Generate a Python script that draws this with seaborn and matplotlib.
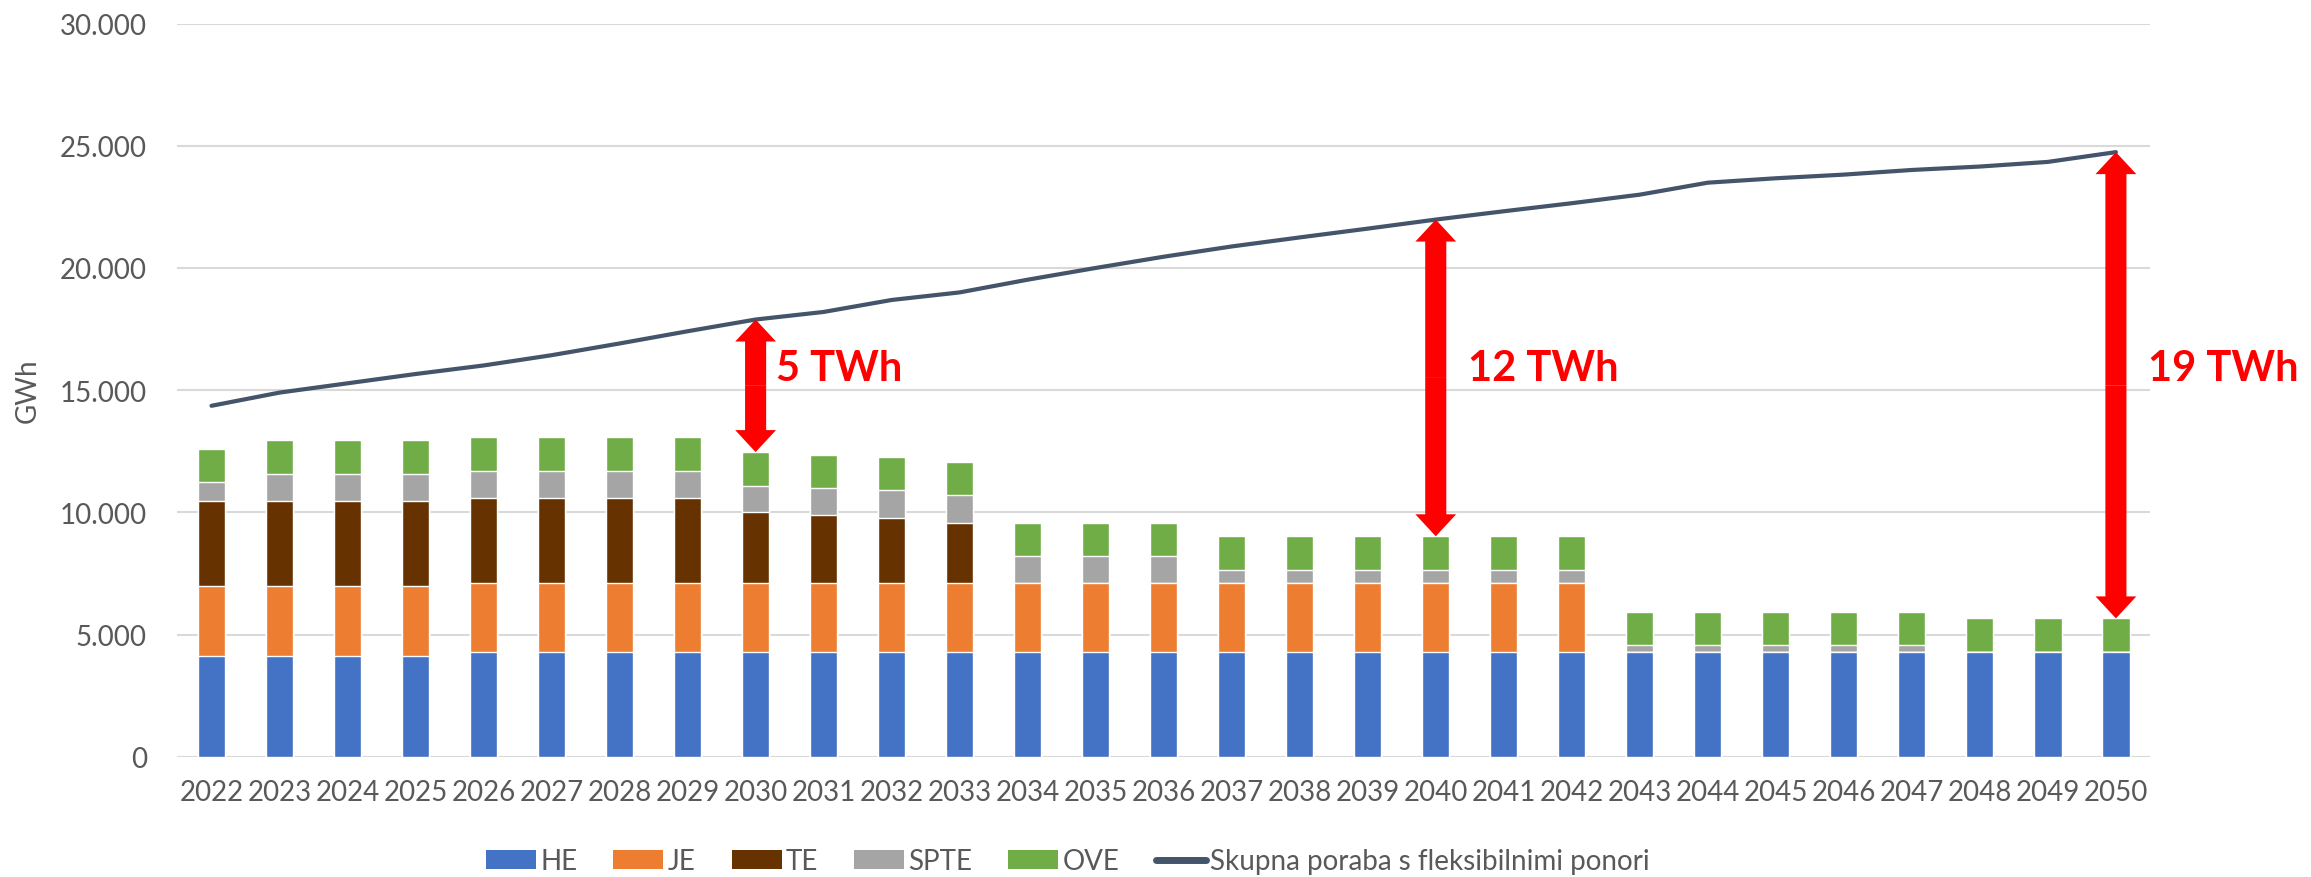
import numpy as np
import pandas as pd
import matplotlib
matplotlib.use("Agg")
import matplotlib.pyplot as plt
import seaborn as sns
from matplotlib.patches import Patch
from matplotlib.lines import Line2D
from matplotlib.ticker import FuncFormatter

# ---------------- data ----------------
years = ["2022", "2023", "2024", "2025", "2026", "2027", "2028", "2029", "2030",
         "2031", "2032", "2033", "2034", "2035", "2036", "2037", "2038", "2039",
         "2040", "2041", "2042", "2043", "2044", "2045", "2046", "2047", "2048",
         "2049", "2050"]
HE = [4130, 4130, 4130, 4130, 4280, 4280, 4280, 4280, 4280, 4280, 4280, 4280,
      4280, 4280, 4280, 4280, 4280, 4280, 4280, 4280, 4280, 4280, 4280, 4280,
      4280, 4280, 4280, 4280, 4280]
JE = [2840, 2840, 2840, 2840, 2820, 2820, 2820, 2820, 2820, 2820, 2820, 2820,
      2820, 2820, 2820, 2820, 2820, 2820, 2820, 2820, 2820, 0, 0, 0, 0, 0, 0, 0, 0]
TE = [3490, 3490, 3490, 3490, 3490, 3490, 3490, 3490, 2900, 2800, 2670, 2480,
      0, 0, 0, 0, 0, 0, 0, 0, 0, 0, 0, 0, 0, 0, 0, 0, 0]
SPTE = [770, 1100, 1100, 1100, 1100, 1100, 1100, 1100, 1085, 1105, 1150, 1130,
        1107, 1107, 1107, 560, 560, 560, 560, 560, 560, 290, 290, 290, 290, 290,
        0, 0, 0]
OVE = [1380, 1380, 1380, 1380, 1400, 1400, 1400, 1400, 1380, 1360, 1340, 1360,
       1360, 1360, 1360, 1360, 1360, 1360, 1360, 1360, 1360, 1360, 1360, 1360,
       1360, 1360, 1380, 1380, 1380]
poraba = [14360, 14900, 15280, 15660, 16010, 16430, 16910, 17410, 17890, 18200,
          18690, 19000, 19520, 20000, 20460, 20880, 21250, 21610, 21980, 22320,
          22650, 23000, 23490, 23670, 23820, 24010, 24150, 24340, 24740]
series_names = ["HE", "JE", "TE", "SPTE", "OVE"]
line_name = "Skupna poraba s fleksibilnimi ponori"
gap_years = ["2030", "2040", "2050"]
gap_labels = ["5 TWh", "12 TWh", "19 TWh"]
yticks = [0, 5000, 10000, 15000, 20000, 25000, 30000]

# ---------------- style ----------------
colors = {"HE": "#4472C4", "JE": "#ED7D31", "TE": "#663300",
          "SPTE": "#A5A5A5", "OVE": "#70AD47"}
line_color = "#44546A"
text_color = "#595959"
grid_color = "#D9D9D9"

sns.set_theme(style="white")
plt.rcParams["font.family"] = ["Lato", "DejaVu Sans"]

df = pd.DataFrame({"year": years, "HE": HE, "JE": JE, "TE": TE,
                   "SPTE": SPTE, "OVE": OVE, "poraba": poraba})
cum = df[series_names].cumsum(axis=1)

fig = plt.figure(figsize=(23.11, 8.78), dpi=100)
ax = fig.add_axes([0.0768, 0.137, 0.8535, 0.835])

# stacked bars: draw cumulative totals from top layer down
for name in reversed(series_names):
    sns.barplot(x=df["year"], y=cum[name], color=colors[name], saturation=1,
                width=0.4, ax=ax, order=years, errorbar=None, zorder=2)

xpos = np.arange(len(years))
sns.lineplot(x=xpos, y=df["poraba"], color=line_color, linewidth=3.0, ax=ax,
             zorder=3, solid_capstyle="round")

# axes styling
ax.set_xlim(-0.5, len(years) - 0.5)
ax.set_ylim(0, 30000)
ax.set_yticks(yticks)
ax.yaxis.set_major_formatter(FuncFormatter(lambda v, p: f"{int(v):,}".replace(",", ".")))
ax.grid(axis="y", color=grid_color, linewidth=1.5, zorder=0)
ax.set_axisbelow(True)
for s in ax.spines.values():
    s.set_visible(False)
ax.tick_params(axis="both", length=0, labelsize=20, labelcolor=text_color)
ax.tick_params(axis="y", pad=22)
ax.tick_params(axis="x", pad=16)
ax.set_xlabel("")
ax.set_ylabel("GWh", fontsize=20, color=text_color, labelpad=14)

# gap arrows and labels
total = cum["OVE"].values
offsets = [0.3, 0.47, 0.47]
for yr, lab, off in zip(gap_years, gap_labels, offsets):
    i = years.index(yr)
    top = poraba[i]
    bot = total[i]
    mid = (top + bot) / 2
    for end in (top, bot):
        ax.arrow(i, mid, 0, end - mid, width=0.31, head_width=0.6,
                 head_length=900, length_includes_head=True,
                 facecolor="#FF0000", edgecolor="none", zorder=4)
    ax.text(i + off, 15900, lab, color="#FF0000", fontsize=30,
            fontweight="bold", va="center", ha="left", zorder=5)

# legend
handles = [Patch(facecolor=colors[n], edgecolor="none", label=n) for n in series_names]
handles.append(Line2D([0], [0], color=line_color, linewidth=5,
                      solid_capstyle="round", label=line_name))
leg = fig.legend(handles=handles, loc="center", bbox_to_anchor=(0.462, 0.018),
                 ncol=6, frameon=False, fontsize=20, handlelength=1.8,
                 handleheight=0.65, handletextpad=0.15, columnspacing=1.3)
for t in leg.get_texts():
    t.set_color(text_color)

fig.savefig("out.png", dpi=100)
